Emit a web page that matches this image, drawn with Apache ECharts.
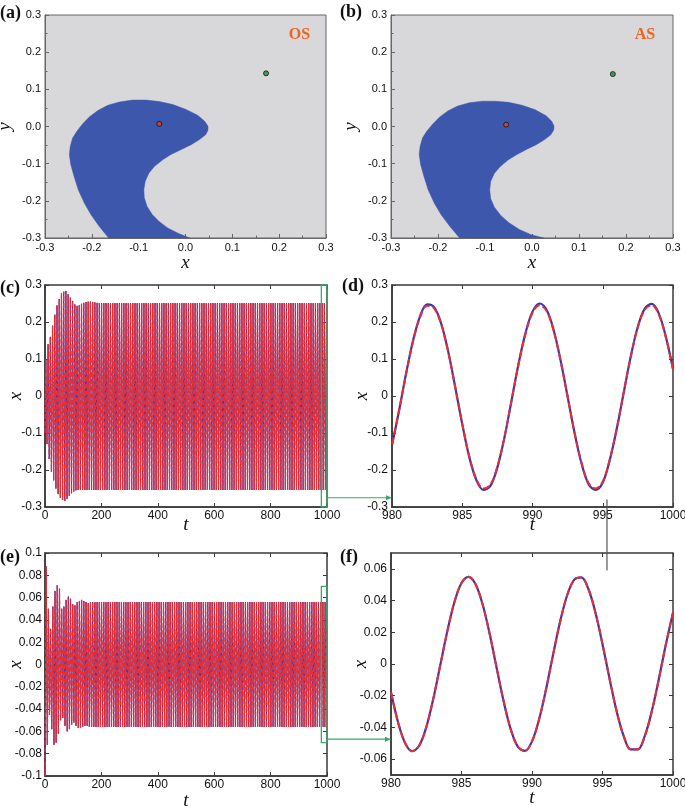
<!DOCTYPE html>
<html>
<head>
<meta charset="utf-8">
<script src="https://cdn.jsdelivr.net/npm/echarts@6/dist/echarts.min.js"></script>
<style>html,body{margin:0;padding:0;background:#fff}#chart{width:685px;height:808px}</style>
</head>
<body>
<div id="chart"></div>
<script>
// ---------------- data ----------------
// basin of attraction boundaries (panels a, b)
const aBasinX = [-0.164,-0.184,-0.202,-0.216,-0.229,-0.238,-0.245,-0.248,-0.246,-0.241,-0.232,-0.219,-0.205,-0.187,-0.166,-0.141,-0.113,-0.084,-0.056,-0.027,0.001,0.026,0.041,0.048,0.048,0.043,0.030,0.012,-0.009,-0.031,-0.048,-0.066,-0.078,-0.086,-0.089,-0.088,-0.082,-0.071,-0.057,-0.038,-0.016,0.009];
const aBasinY = [-0.300,-0.269,-0.237,-0.206,-0.170,-0.134,-0.102,-0.075,-0.053,-0.031,-0.013,0.008,0.026,0.043,0.057,0.066,0.071,0.071,0.067,0.059,0.046,0.030,0.014,0.001,-0.010,-0.022,-0.035,-0.049,-0.062,-0.075,-0.089,-0.107,-0.125,-0.147,-0.170,-0.192,-0.215,-0.237,-0.255,-0.273,-0.287,-0.300];
const bBasinX = [-0.154,-0.174,-0.193,-0.208,-0.221,-0.230,-0.237,-0.240,-0.238,-0.233,-0.224,-0.211,-0.197,-0.179,-0.158,-0.133,-0.106,-0.078,-0.050,-0.021,0.007,0.030,0.042,0.047,0.046,0.040,0.027,0.009,-0.012,-0.033,-0.051,-0.068,-0.080,-0.088,-0.090,-0.088,-0.080,-0.066,-0.049,-0.027,-0.002,0.025];
const bBasinY = [-0.300,-0.270,-0.238,-0.206,-0.170,-0.134,-0.102,-0.075,-0.053,-0.031,-0.013,0.007,0.025,0.042,0.055,0.064,0.068,0.068,0.065,0.057,0.045,0.029,0.014,0.001,-0.010,-0.022,-0.035,-0.049,-0.062,-0.076,-0.090,-0.108,-0.126,-0.148,-0.171,-0.194,-0.217,-0.240,-0.259,-0.277,-0.291,-0.300];
const aRedPoint = [-0.056, 0.007];
const aGreenPoint = [0.172, 0.143];
const bRedPoint = [-0.055, 0.005];
const bGreenPoint = [0.172, 0.141];
const panelTags = ['OS', 'AS'];

// long time series (c): extrema, peaks at cFirstPeak + k*cPeriod, troughs half a period later
const cFirstPeak = 3.1, cPeriod = 7.9, cStartVal = -0.10, cEndVal = 0.075;
const cPeaks = [0.10,0.14,0.16,0.19,0.22,0.245,0.262,0.277,0.282,0.284,
0.275,0.266,0.257,0.248,0.244,0.245,0.249,0.252,0.254,0.255,
0.255,0.254,0.253,0.252,0.251,0.251,0.251,0.251,0.251,0.251,
0.251,0.251,0.251,0.251,0.251,0.251,0.251,0.251,0.251,0.251,
0.251,0.251,0.251,0.251,0.251,0.251,0.251,0.251,0.251,0.251,
0.251,0.251,0.251,0.251,0.251,0.251,0.251,0.251,0.251,0.251,
0.251,0.251,0.251,0.251,0.251,0.251,0.251,0.251,0.251,0.251,
0.251,0.251,0.251,0.251,0.251,0.251,0.251,0.251,0.251,0.251,
0.251,0.251,0.251,0.251,0.251,0.251,0.251,0.251,0.251,0.251,
0.251,0.251,0.251,0.251,0.251,0.251,0.251,0.251,0.251,0.251,
0.251,0.251,0.251,0.251,0.251,0.251,0.251,0.251,0.251,0.251,
0.251,0.251,0.251,0.251,0.251,0.251,0.251,0.251,0.251,0.251,
0.251,0.251,0.251,0.251,0.251,0.251,0.251];
const cTroughs = [-0.13,-0.17,-0.205,-0.228,-0.25,-0.265,-0.275,-0.281,-0.284,-0.278,
-0.27,-0.263,-0.258,-0.255,-0.254,-0.254,-0.254,-0.254,-0.254,-0.254,
-0.254,-0.254,-0.254,-0.254,-0.254,-0.254,-0.254,-0.254,-0.254,-0.254,
-0.254,-0.254,-0.254,-0.254,-0.254,-0.254,-0.254,-0.254,-0.254,-0.254,
-0.254,-0.254,-0.254,-0.254,-0.254,-0.254,-0.254,-0.254,-0.254,-0.254,
-0.254,-0.254,-0.254,-0.254,-0.254,-0.254,-0.254,-0.254,-0.254,-0.254,
-0.254,-0.254,-0.254,-0.254,-0.254,-0.254,-0.254,-0.254,-0.254,-0.254,
-0.254,-0.254,-0.254,-0.254,-0.254,-0.254,-0.254,-0.254,-0.254,-0.254,
-0.254,-0.254,-0.254,-0.254,-0.254,-0.254,-0.254,-0.254,-0.254,-0.254,
-0.254,-0.254,-0.254,-0.254,-0.254,-0.254,-0.254,-0.254,-0.254,-0.254,
-0.254,-0.254,-0.254,-0.254,-0.254,-0.254,-0.254,-0.254,-0.254,-0.254,
-0.254,-0.254,-0.254,-0.254,-0.254,-0.254,-0.254,-0.254,-0.254,-0.254,
-0.254,-0.254,-0.254,-0.254,-0.254,-0.254];

// long time series (e): troughs at eFirstTrough + k*ePeriod, peaks half a period later
const eFirstTrough = 0.3, ePeriod = 7.85, eStartVal = -0.09, eEndVal = 0.032;
const eTroughs = [-0.100,-0.072,-0.045,-0.058,-0.072,-0.070,-0.062,-0.050,-0.048,-0.055,
-0.060,-0.058,-0.054,-0.052,-0.055,-0.057,-0.057,-0.056,-0.055,-0.055,
-0.056,-0.056,-0.056,-0.056,-0.056,-0.056,-0.056,-0.056,-0.056,-0.056,
-0.056,-0.056,-0.056,-0.056,-0.056,-0.056,-0.056,-0.056,-0.056,-0.056,
-0.056,-0.056,-0.056,-0.056,-0.056,-0.056,-0.056,-0.056,-0.056,-0.056,
-0.056,-0.056,-0.056,-0.056,-0.056,-0.056,-0.056,-0.056,-0.056,-0.056,
-0.056,-0.056,-0.056,-0.056,-0.056,-0.056,-0.056,-0.056,-0.056,-0.056,
-0.056,-0.056,-0.056,-0.056,-0.056,-0.056,-0.056,-0.056,-0.056,-0.056,
-0.056,-0.056,-0.056,-0.056,-0.056,-0.056,-0.056,-0.056,-0.056,-0.056,
-0.056,-0.056,-0.056,-0.056,-0.056,-0.056,-0.056,-0.056,-0.056,-0.056,
-0.056,-0.056,-0.056,-0.056,-0.056,-0.056,-0.056,-0.056,-0.056,-0.056,
-0.056,-0.056,-0.056,-0.056,-0.056,-0.056,-0.056,-0.056,-0.056,-0.056,
-0.056,-0.056,-0.056,-0.056,-0.056,-0.056,-0.056,-0.056];
const ePeaks = [0.088,0.050,0.032,0.052,0.066,0.071,0.068,0.050,0.052,0.058,
0.061,0.059,0.054,0.053,0.056,0.057,0.058,0.057,0.056,0.055,
0.056,0.056,0.056,0.056,0.056,0.056,0.056,0.056,0.056,0.056,
0.056,0.056,0.056,0.056,0.056,0.056,0.056,0.056,0.056,0.056,
0.056,0.056,0.056,0.056,0.056,0.056,0.056,0.056,0.056,0.056,
0.056,0.056,0.056,0.056,0.056,0.056,0.056,0.056,0.056,0.056,
0.056,0.056,0.056,0.056,0.056,0.056,0.056,0.056,0.056,0.056,
0.056,0.056,0.056,0.056,0.056,0.056,0.056,0.056,0.056,0.056,
0.056,0.056,0.056,0.056,0.056,0.056,0.056,0.056,0.056,0.056,
0.056,0.056,0.056,0.056,0.056,0.056,0.056,0.056,0.056,0.056,
0.056,0.056,0.056,0.056,0.056,0.056,0.056,0.056,0.056,0.056,
0.056,0.056,0.056,0.056,0.056,0.056,0.056,0.056,0.056,0.056,
0.056,0.056,0.056,0.056,0.056,0.056,0.056];

// zoomed windows (d), (f): samples from t = 980 every 0.5
const zoomStart = 980, zoomStep = 0.5;
const dBlue = [-0.133,-0.040,0.060,0.150,0.216,0.248,0.240,0.196,0.120,0.024,-0.076,-0.165,-0.227,-0.254,-0.243,-0.193,-0.113,-0.014,0.086,0.170,0.228,0.250,0.233,0.179,0.096,-0.002,-0.101,-0.184,-0.239,-0.254,-0.234,-0.173,-0.088,0.011,0.108,0.188,0.237,0.249,0.222,0.159,0.073];
const dRed = [-0.131,-0.040,0.059,0.148,0.213,0.244,0.237,0.194,0.119,0.024,-0.075,-0.163,-0.224,-0.250,-0.240,-0.191,-0.112,-0.014,0.085,0.168,0.225,0.245,0.230,0.177,0.095,-0.002,-0.100,-0.182,-0.236,-0.250,-0.231,-0.171,-0.087,0.011,0.107,0.186,0.234,0.245,0.219,0.157,0.072];
const fBlue = [-0.0178,-0.0367,-0.0498,-0.0550,-0.0515,-0.0399,-0.0219,-0.0005,0.0209,0.0391,0.0511,0.0550,0.0503,0.0375,0.0189,-0.0028,-0.0240,-0.0414,-0.0522,-0.0548,-0.0488,-0.0350,-0.0157,0.0061,0.0269,0.0435,0.0532,0.0546,0.0473,0.0324,0.0125,-0.0093,-0.0297,-0.0454,-0.0539,-0.0539,-0.0454,-0.0297,-0.0093,0.0126,0.0324];
const fRed = [-0.0178,-0.0367,-0.0498,-0.0550,-0.0515,-0.0399,-0.0219,-0.0005,0.0209,0.0391,0.0511,0.0550,0.0503,0.0375,0.0189,-0.0028,-0.0240,-0.0414,-0.0522,-0.0548,-0.0488,-0.0350,-0.0157,0.0061,0.0269,0.0435,0.0532,0.0546,0.0473,0.0324,0.0125,-0.0093,-0.0297,-0.0454,-0.0539,-0.0539,-0.0454,-0.0297,-0.0093,0.0126,0.0324];
const fTicks = [-0.06,-0.04,-0.02,0,0.02,0.04,0.06];

// ---------------- styling ----------------
const SANS = "'Liberation Sans', Arial, sans-serif";
const SERIF = "'Liberation Serif', 'Times New Roman', serif";
const INK = '#111';
const BOX = '#3a3a3a';
const BOXA = '#666';
const BG = '#d8d7d9';
const BASIN = '#3d57ad';
const BLUE = '#3535b8';
const RED = '#ee2c2c';
const GREEN = '#3aa86a';
const ORANGE = '#f0621f';

const grids = [
  {left: 45, top: 15, width: 281, height: 223, bg: BG, bc: BOXA, bw: 1},
  {left: 391, top: 15, width: 282, height: 223, bg: BG, bc: BOXA, bw: 1},
  {left: 45, top: 285, width: 282, height: 222, bg: 'transparent', bc: BOX, bw: 1.5},
  {left: 392, top: 285, width: 281, height: 222, bg: 'transparent', bc: BOX, bw: 1.5},
  {left: 45, top: 553, width: 282, height: 223, bg: 'transparent', bc: BOX, bw: 1.5},
  {left: 391, top: 553, width: 282, height: 222, bg: 'transparent', bc: BOX, bw: 1.5}
].map(g => ({
  left: g.left, top: g.top, width: g.width, height: g.height,
  show: true, backgroundColor: g.bg, borderColor: g.bc, borderWidth: g.bw,
  containLabel: false, outerBoundsMode: 'none'
}));

const nameStyle = {fontFamily: SERIF, fontStyle: 'italic', fontSize: 19, color: INK};

function mainAxis(dim, gi, min, max, interval, name, nameGap, o) {
  const col = o.color || BOX;
  const ax = {
    type: 'value', gridIndex: gi, position: dim === 'x' ? 'bottom' : 'left',
    min: min, max: max,
    name: name, nameLocation: 'middle', nameGap: nameGap, nameTextStyle: nameStyle,
    nameMoveOverlap: false,
    axisLine: {show: true, onZero: false, lineStyle: {color: col, width: o.lw || 1.5}},
    axisTick: {show: true, inside: true, length: 4, lineStyle: {color: col, width: 1}},
    minorTick: {show: !!o.minor, splitNumber: 2, length: 2.5, lineStyle: {color: col, width: 1}},
    axisLabel: {show: true, margin: o.margin, fontFamily: SANS, fontSize: o.fs || 12, color: INK,
      showMinLabel: true, showMaxLabel: true, hideOverlap: false,
      formatter: o.formatter || (v => String(v))},
    splitLine: {show: false}, minorSplitLine: {show: false}
  };
  if (interval != null) ax.interval = interval;
  if (o.custom) { ax.axisLabel.customValues = o.custom; ax.axisTick.customValues = o.custom; }
  return ax;
}
function mirrorAxis(dim, gi, min, max, interval, custom) {
  const ax = {
    type: 'value', gridIndex: gi, position: dim === 'x' ? 'top' : 'right',
    min: min, max: max,
    axisLine: {show: false, onZero: false},
    axisTick: {show: true, inside: true, length: 4, lineStyle: {color: BOX, width: 1}},
    axisLabel: {show: false}, splitLine: {show: false}
  };
  if (interval != null) ax.interval = interval;
  if (custom) ax.axisTick.customValues = custom;
  return ax;
}
const oneDec = v => v.toFixed(1);
const plain = v => String(Math.round(v * 1e6) / 1e6);

const xAxes = [
  mainAxis('x', 0, -0.3, 0.3, 0.1, 'x', 15, {color: BOXA, lw: 1, minor: true, fs: 11, margin: 4, formatter: oneDec}),
  mainAxis('x', 1, -0.3, 0.3, 0.1, 'x', 15, {color: BOXA, lw: 1, minor: true, fs: 11, margin: 4, formatter: oneDec}),
  mainAxis('x', 2, 0, 1000, 200, 't', 8, {margin: 3, formatter: plain}),
  mainAxis('x', 3, 980, 1000, 5, 't', 8, {margin: 3, formatter: plain}),
  mainAxis('x', 4, 0, 1000, 200, 't', 15, {margin: 3, formatter: plain}),
  mainAxis('x', 5, 980, 1000, 5, 't', 13, {margin: 3, formatter: plain}),
  mirrorAxis('x', 2, 0, 1000, 200),
  mirrorAxis('x', 3, 980, 1000, 5),
  mirrorAxis('x', 4, 0, 1000, 200),
  mirrorAxis('x', 5, 980, 1000, 5)
];
const yAxes = [
  mainAxis('y', 0, -0.3, 0.3, 0.1, 'y', 31, {color: BOXA, lw: 1, minor: true, fs: 11, margin: 4, formatter: oneDec}),
  mainAxis('y', 1, -0.3, 0.3, 0.1, 'y', 31, {color: BOXA, lw: 1, minor: true, fs: 11, margin: 4, formatter: oneDec}),
  mainAxis('y', 2, -0.3, 0.3, 0.1, 'x', 20, {margin: 3, formatter: plain}),
  mainAxis('y', 3, -0.3, 0.3, 0.1, 'x', 21, {margin: 4, formatter: plain}),
  mainAxis('y', 4, -0.1, 0.1, 0.02, 'x', 20, {margin: 3, formatter: plain}),
  mainAxis('y', 5, -0.07, 0.07, null, 'x', 21, {margin: 4, custom: fTicks, formatter: plain}),
  mirrorAxis('y', 2, -0.3, 0.3, 0.1),
  mirrorAxis('y', 3, -0.3, 0.3, 0.1),
  mirrorAxis('y', 4, -0.1, 0.1, 0.02),
  mirrorAxis('y', 5, -0.07, 0.07, null, fTicks)
];

// ---------------- series builders ----------------
function basinSeries(ax, xs, ys) {
  return {
    type: 'custom', xAxisIndex: ax, yAxisIndex: ax, silent: true, z: 2,
    data: xs.map((x, i) => [x, ys[i]]),
    renderItem: function (params, api) {
      if (params.dataIndex !== 0) return null;
      const pts = xs.map((x, i) => api.coord([x, ys[i]]));
      const cs = params.coordSys;
      return {
        type: 'polygon', shape: {points: pts},
        style: {fill: BASIN, stroke: BASIN, lineWidth: 0.5},
        clipPath: {type: 'rect', shape: {x: cs.x, y: cs.y, width: cs.width, height: cs.height}}
      };
    }
  };
}
function dotSeries(ax, pt, color) {
  return {
    type: 'scatter', xAxisIndex: ax, yAxisIndex: ax, data: [pt], symbol: 'circle', symbolSize: 5,
    itemStyle: {color: color, borderColor: '#111', borderWidth: 1}, silent: true, z: 5
  };
}
function oscData(t0, period, first, second, startVal, endVal) {
  const pts = [[0, startVal]];
  const n = Math.max(first.length, second.length);
  for (let i = 0; i < n; i++) {
    if (i < first.length) pts.push([t0 + i * period, first[i]]);
    if (i < second.length) pts.push([t0 + period / 2 + i * period, second[i]]);
  }
  pts.push([1000, endVal]);
  return pts;
}
function sampled(vals) { return vals.map((v, i) => [zoomStart + i * zoomStep, v]); }
function lineSeries(ax, data, color, width, dash, z, smooth) {
  return {
    type: 'line', xAxisIndex: ax, yAxisIndex: ax, data: data, showSymbol: false, symbol: 'none',
    smooth: smooth || false, sampling: null, silent: true, z: z, clip: true,
    lineStyle: {color: color, width: width, type: dash || 'solid'}
  };
}

const cData = oscData(cFirstPeak, cPeriod, cPeaks, cTroughs, cStartVal, cEndVal);
const eData = oscData(eFirstTrough, ePeriod, eTroughs, ePeaks, eStartVal, eEndVal);

const series = [
  basinSeries(0, aBasinX, aBasinY),
  dotSeries(0, aRedPoint, '#e8401c'),
  dotSeries(0, aGreenPoint, '#1f8a40'),
  basinSeries(1, bBasinX, bBasinY),
  dotSeries(1, bRedPoint, '#e8401c'),
  dotSeries(1, bGreenPoint, '#1f8a40'),
  lineSeries(2, cData, BLUE, 1, 'solid', 3),
  lineSeries(2, cData, RED, 1.3, [5, 2], 4),
  lineSeries(3, sampled(dBlue), BLUE, 2.2, 'solid', 3, 0.35),
  lineSeries(3, sampled(dRed), RED, 2, [7, 3], 4, 0.35),
  lineSeries(4, eData, BLUE, 1, 'solid', 3),
  lineSeries(4, eData, RED, 1.3, [5, 2], 4),
  lineSeries(5, sampled(fBlue), BLUE, 2.2, 'solid', 3, 0.35),
  lineSeries(5, sampled(fRed), RED, 2, [7, 3], 4, 0.35)
];

const chart = echarts.init(document.getElementById('chart'), null, {renderer: 'canvas'});
chart.setOption({
  animation: false,
  backgroundColor: '#fff',
  textStyle: {fontFamily: SANS},
  grid: grids,
  xAxis: xAxes,
  yAxis: yAxes,
  series: series
});

// ---------------- annotations ----------------
const P = (ax, v) => chart.convertToPixel({xAxisIndex: ax, yAxisIndex: ax}, v);
function label(text, x, y, size, color) {
  return {type: 'text', x: x, y: y, z: 100,
    style: {text: text, font: 'bold ' + size + 'px ' + SERIF, fill: color || INK, align: 'left', verticalAlign: 'middle'}};
}
function arrow(x1, x2, y) {
  return [
    {type: 'line', z: 100, shape: {x1: x1, y1: y, x2: x2 - 4, y2: y}, style: {stroke: GREEN, lineWidth: 1.2}},
    {type: 'polygon', z: 100, shape: {points: [[x2, y], [x2 - 6, y - 2.5], [x2 - 6, y + 2.5]]}, style: {fill: GREEN}}
  ];
}
const c1 = P(2, [980, 0.3]), c2 = P(2, [1000, -0.3]);
const e1 = P(4, [980, 0.07]), e2 = P(4, [1000, -0.07]);
const cArrowY = P(2, [1000, -0.275])[1];
const eArrowY = P(4, [1000, -0.067])[1];
const dLeft = P(3, [980, 0])[0];
const fLeft = P(5, [980, 0])[0];
const vTop = P(3, [995.3, -0.28]);
const vBot = P(5, [995.3, 0.059]);

const graphics = [
  label('(a)', 0, 13, 18), label('(b)', 340, 12, 18),
  label('(c)', 0, 288, 18), label('(d)', 342, 286, 18),
  label('(e)', 0, 557, 18), label('(f)', 340, 557, 18),
  {type: 'text', x: 299.5, y: 35, z: 100, style: {text: panelTags[0], font: 'bold 16px ' + SERIF, fill: ORANGE, align: 'center', verticalAlign: 'middle'}},
  {type: 'text', x: 645, y: 35, z: 100, style: {text: panelTags[1], font: 'bold 16px ' + SERIF, fill: ORANGE, align: 'center', verticalAlign: 'middle'}},
  {type: 'rect', z: 100, shape: {x: c1[0], y: c1[1], width: c2[0] - c1[0], height: c2[1] - c1[1]}, style: {fill: 'none', stroke: GREEN, lineWidth: 1.3}},
  {type: 'rect', z: 100, shape: {x: e1[0], y: e1[1], width: e2[0] - e1[0], height: e2[1] - e1[1]}, style: {fill: 'none', stroke: GREEN, lineWidth: 1.3}},
  ...arrow(c2[0], dLeft, cArrowY),
  ...arrow(e2[0], fLeft, eArrowY),
  {type: 'line', z: 100, shape: {x1: vTop[0], y1: vTop[1], x2: vTop[0], y2: vBot[1]}, style: {stroke: '#555', lineWidth: 1.2}}
];
chart.setOption({graphic: graphics});
</script>
</body>
</html>
